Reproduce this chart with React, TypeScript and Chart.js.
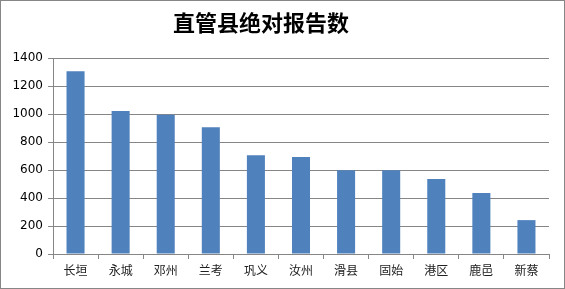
import React, { useEffect, useRef } from "react";
import { Chart, registerables } from "chart.js";

Chart.register(...registerables);

const TITLE = "直管县绝对报告数";
const categories = ["长垣", "永城", "邓州", "兰考", "巩义", "汝州", "滑县", "固始", "港区", "鹿邑", "新蔡"];
const reportCounts = [1306, 1021, 994, 906, 706, 692, 599, 599, 536, 436, 242];
const yMin = 0;
const yMax = 1400;
const yStep = 200;

const GRAY = "#868686";
const BAR = "#4F81BD";

const frameAndTitle = {
  id: "frameAndTitle",
  afterDraw(chart: any) {
    const ctx = chart.ctx;
    ctx.save();
    ctx.strokeStyle = GRAY;
    ctx.lineWidth = 1;
    ctx.strokeRect(0.5, 0.5, chart.width - 1, chart.height - 1);
    ctx.fillStyle = "#000";
    ctx.font = 'bold 22px "Noto Sans CJK SC", sans-serif';
    ctx.textAlign = "center";
    ctx.textBaseline = "middle";
    ctx.fillText(TITLE, 261, 23);
    ctx.restore();
  },
};

export default function App() {
  const ref = useRef<HTMLCanvasElement | null>(null);
  useEffect(() => {
    if (!ref.current) return;
    const chart = new Chart(ref.current, {
      type: "bar",
      data: {
        labels: categories,
        datasets: [
          {
            data: reportCounts,
            backgroundColor: BAR,
            borderWidth: 0,
            categoryPercentage: 1,
            barPercentage: 0.4,
          },
        ],
      },
      options: {
        responsive: false,
        animation: false,
        layout: { padding: { left: 0, right: 16, top: 58, bottom: 0 } },
        plugins: { legend: { display: false }, title: { display: false }, tooltip: { enabled: false } },
        scales: {
          x: {
            grid: { drawOnChartArea: false, drawTicks: true, tickLength: 5, color: GRAY, offset: true },
            border: { color: GRAY, width: 1 },
            ticks: {
              color: "#222",
              padding: 4,
              font: { family: '"Noto Sans CJK SC", sans-serif', size: 12 },
              maxRotation: 0,
              autoSkip: false,
            },
            afterFit(scale: any) {
              scale.height = 35;
            },
          },
          y: {
            min: yMin,
            max: yMax,
            grid: { color: GRAY, tickLength: 5, lineWidth: 1 },
            border: { color: GRAY, width: 1 },
            ticks: {
              stepSize: yStep,
              color: "#000",
              padding: 5,
              font: { family: '"DejaVu Sans", sans-serif', size: 12 },
              callback: (v: any) => String(v),
            },
            afterFit(scale: any) {
              scale.width = 53;
            },
          },
        },
      },
      plugins: [frameAndTitle],
    });
    return () => chart.destroy();
  }, []);
  return (
    <div style={{ position: "fixed", left: 0, top: 0, width: 565, height: 289, background: "#fff" }}>
      <canvas ref={ref} width={565} height={289} style={{ display: "block" }} />
    </div>
  );
}
